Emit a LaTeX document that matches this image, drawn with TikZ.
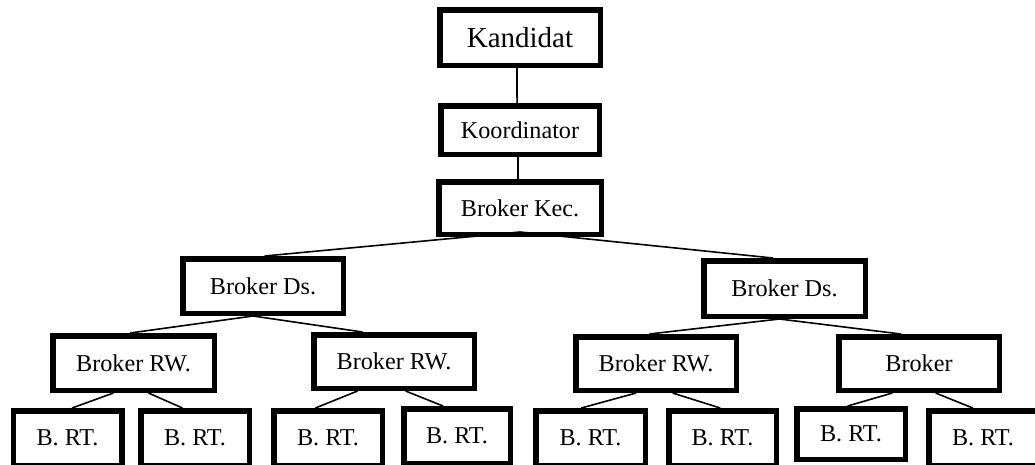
\documentclass[tikz,border=0pt]{standalone}
\usepackage{fontspec}
\setmainfont{Liberation Serif}
\usetikzlibrary{calc}
\tikzset{
  box/.style={draw=black, fill=white, line width=5.5pt, rectangle, inner sep=0pt, font=\fontsize{24.2}{28}\selectfont},
  bigbox/.style={box, font=\fontsize{29}{34}\selectfont},
  link/.style={draw=black, line width=1.6pt},
}
\newcommand{\bx}[6]{\node[#1, minimum width={#4-5.5pt}, minimum height={#5-5.5pt}] (#2) at (#3) {#6};}
\begin{document}
\begin{tikzpicture}[x=1pt, y=-1pt]
\useasboundingbox (0,0) rectangle (1035,464);
\clip (0,0) rectangle (1035,464);
% nodes
\bx{bigbox}{kand}{520,37.5}{166pt}{61pt}{Kandidat}
\bx{box}{koord}{520,130}{164pt}{54pt}{Koordinator}
\bx{box}{kec}{520,208}{168pt}{58pt}{Broker Kec.}
\bx{box}{dsa}{263,286}{166pt}{60pt}{Broker Ds.}
\bx{box}{dsb}{784.5,288.5}{167pt}{61pt}{Broker Ds.}
\bx{box}{rwa}{133.5,363}{167pt}{60pt}{Broker RW.}
\bx{box}{rwb}{394,361.5}{166pt}{59pt}{Broker RW.}
\bx{box}{rwc}{656,363.5}{166pt}{59pt}{Broker RW.}
\bx{box}{rwd}{919,363.5}{166pt}{59pt}{Broker}
\bx{box}{bta}{67.5,438}{114pt}{60pt}{B. RT.}
\bx{box}{btb}{195,438}{114pt}{60pt}{B. RT.}
\bx{box}{btc}{328,438}{114pt}{60pt}{B. RT.}
\bx{box}{btd}{457,436}{112pt}{60pt}{B. RT.}
\bx{box}{bte}{590.5,438}{115pt}{60pt}{B. RT.}
\bx{box}{btf}{722.5,438}{113pt}{60pt}{B. RT.}
\bx{box}{btg}{851,434}{114pt}{56pt}{B. RT.}
\bx{box}{bth}{983,438}{114pt}{60pt}{B. RT.}
% connectors
\newcommand{\lk}[4]{\draw[link] ($(#1.south west)!#2!(#1.south east)$) -- ($(#3.north west)!#4!(#3.north east)$);}
\lk{kand}{0.482}{koord}{0.482}
\lk{koord}{0.488}{kec}{0.488}
\draw[link] ($(kec.south)+(0,-5)$) -- ($(dsa.north west)!0.51!(dsa.north east)$);
\draw[link] ($(kec.south)+(0,-5)$) -- ($(dsb.north west)!0.43!(dsb.north east)$);
\lk{dsa}{0.44}{rwa}{0.48}
\lk{dsa}{0.44}{rwb}{0.31}
\lk{dsb}{0.47}{rwc}{0.46}
\lk{dsb}{0.47}{rwd}{0.39}
\lk{rwa}{0.38}{bta}{0.54}
\lk{rwa}{0.59}{btb}{0.39}
\lk{rwb}{0.28}{btc}{0.39}
\lk{rwb}{0.57}{btd}{0.375}
\lk{rwc}{0.38}{bte}{0.42}
\lk{rwc}{0.60}{btf}{0.48}
\lk{rwd}{0.34}{btg}{0.47}
\lk{rwd}{0.60}{bth}{0.41}
\end{tikzpicture}
\end{document}
